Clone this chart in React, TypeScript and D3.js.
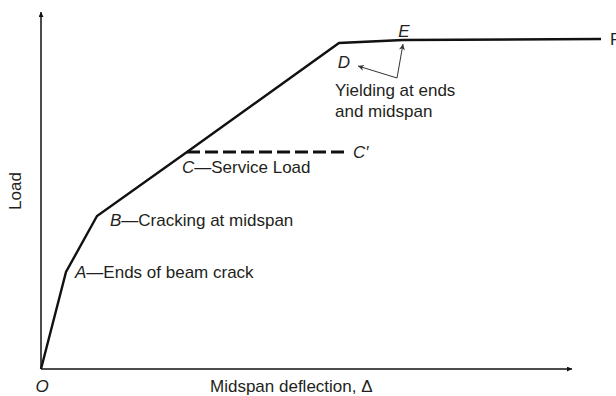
import React from 'react'
import * as d3 from 'd3'

// load-deflection curve of a fixed-end beam (schematic)
const pointNames = ['O', 'A', 'B', 'C', 'D', 'E', 'F']
const deflection = [0, 2.5, 5.6, 14.6, 29.8, 36.2, 56]
const load = [0, 9.7, 15.3, 21.7, 32.6, 32.9, 33.0]
const serviceEnd = 30.5 // C' deflection

const width = 616
const height = 396

export default function App() {
  const x = d3.scaleLinear().domain([0, 53.1]).range([41, 572])
  const y = d3.scaleLinear().domain([0, 35.7]).range([369, 12])

  const pts = pointNames.map((n, i) => ({ n, x: x(deflection[i]), y: y(load[i]) }))
  const line = d3.line<{ x: number; y: number }>().x(d => d.x).y(d => d.y)
  const P = Object.fromEntries(pts.map(p => [p.n, p]))

  const font = 'Arial, "Liberation Sans", Helvetica, sans-serif'
  const fs = 17
  const txt = '#231f20'

  const label = (px: number, py: number, letter: string, rest: string) => (
    <text x={px} y={py} fontSize={fs} fill={txt}>
      <tspan fontStyle="italic">{letter}</tspan>
      <tspan>{rest}</tspan>
    </text>
  )

  // arrow from annotation knee to D and E
  const knee = { x: x(35.6), y: y(29.1) }

  return (
    <svg width={width} height={height} style={{ position: 'absolute', left: 0, top: 0 }} fontFamily={font}>
      <defs>
        <marker id="ah" viewBox="0 0 10 10" refX="10" refY="5" markerWidth="9" markerHeight="5" orient="auto" markerUnits="userSpaceOnUse">
          <path d="M0,0 L10,5 L0,10 Z" fill="#111" />
        </marker>
        <marker id="ah2" viewBox="0 0 10 10" refX="10" refY="5" markerWidth="8" markerHeight="6" orient="auto" markerUnits="userSpaceOnUse">
          <path d="M0,0 L10,5 L0,10 L3,5 Z" fill="#333" />
        </marker>
      </defs>
      <rect width={width} height={height} fill="#fff" />

      {/* axes */}
      <line x1={x(0)} y1={y(0)} x2={x(0)} y2={y(35.7)} stroke="#111" strokeWidth={1.5} markerEnd="url(#ah)" />
      <line x1={x(0)} y1={y(0)} x2={x(53.1)} y2={y(0)} stroke="#111" strokeWidth={1.5} markerEnd="url(#ah)" />

      {/* service load dashed */}
      <line x1={P.C.x} y1={P.C.y} x2={x(serviceEnd)} y2={P.C.y} stroke="#111" strokeWidth={3} strokeDasharray="13,5" />

      {/* curve */}
      <path d={line(pts) || ''} fill="none" stroke="#111" strokeWidth={2.4} strokeLinejoin="miter" />

      {/* annotation arrows */}
      <line x1={knee.x} y1={knee.y} x2={P.D.x + 19} y2={P.D.y + 23} stroke="#333" strokeWidth={1} markerEnd="url(#ah2)" />
      <line x1={knee.x} y1={knee.y} x2={x(36.2)} y2={y(32.5)} stroke="#333" strokeWidth={1} markerEnd="url(#ah2)" />

      {label(P.A.x + 9, P.A.y + 6, 'A', '—Ends of beam crack')}
      {label(P.B.x + 13, P.B.y + 10, 'B', '—Cracking at midspan')}
      {label(P.C.x - 5, P.C.y + 21, 'C', '—Service Load')}
      <text x={x(serviceEnd) + 7} y={P.C.y + 6} fontSize={fs} fill={txt} fontStyle="italic">C′</text>
      <text x={P.D.x + 5} y={P.D.y + 25} fontSize={fs} fill={txt} fontStyle="italic" textAnchor="middle">D</text>
      <text x={P.E.x + 1} y={P.E.y - 3} fontSize={fs} fill={txt} fontStyle="italic" textAnchor="middle">E</text>
      <text x={P.F.x + 9} y={P.F.y + 6} fontSize={fs} fill={txt}>F</text>
      <text x={P.D.x - 4} y={P.D.y + 53} fontSize={fs} fill={txt}>Yielding at ends</text>
      <text x={P.D.x - 4} y={P.D.y + 74} fontSize={fs} fill={txt}>and midspan</text>

      <text x={x(0) + 1} y={y(0) + 23} fontSize={fs} fill={txt} fontStyle="italic" textAnchor="middle">O</text>
      <text x={210} y={y(0) + 23} fontSize={fs} fill={txt}>Midspan deflection, Δ</text>
      <text transform={`translate(21, ${y(17.8)}) rotate(-90)`} fontSize={fs} fill={txt} textAnchor="middle">Load</text>
    </svg>
  )
}
